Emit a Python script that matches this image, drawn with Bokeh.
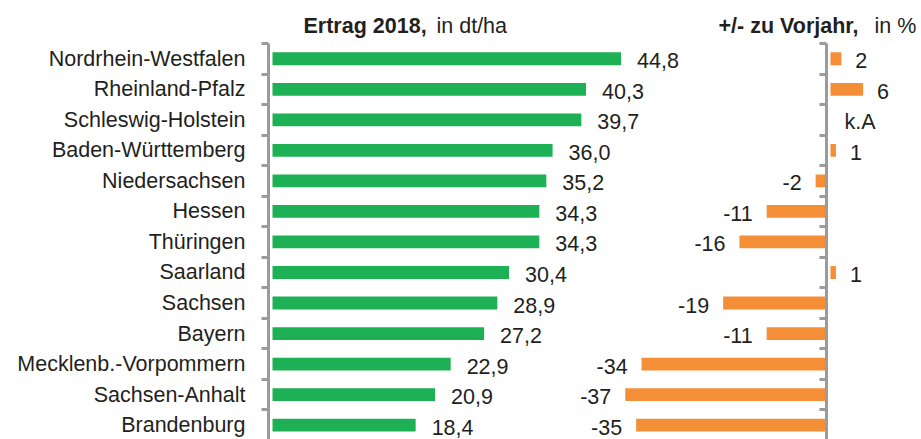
from bokeh.plotting import figure
from bokeh.models import ColumnDataSource, Range1d, LinearAxis, FixedTicker
from bokeh.layouts import column, row
from bokeh.core.properties import value
from bokeh.embed import file_html
from bokeh.resources import INLINE

# ---------------- data ----------------
states = ["Nordrhein-Westfalen", "Rheinland-Pfalz", "Schleswig-Holstein",
          "Baden-Württemberg", "Niedersachsen", "Hessen", "Thüringen",
          "Saarland", "Sachsen", "Bayern", "Mecklenb.-Vorpommern",
          "Sachsen-Anhalt", "Brandenburg"]
ertrag = [44.8, 40.3, 39.7, 36.0, 35.2, 34.3, 34.3, 30.4, 28.9, 27.2, 22.9, 20.9, 18.4]
change = [2, 6, None, 1, -2, -11, -16, 1, -19, -11, -34, -37, -35]
na_text = "k.A"
title_left_bold = "Ertrag 2018,"
title_left_rest = "in dt/ha"
title_right_bold = "+/- zu Vorjahr,"
title_right_rest = "in %"

# ---------------- styles ----------------
FONT = "Liberation Sans"
GREEN = "#1eb054"
ORANGE = "#f48f38"
GRAY = "#9b9b9b"
TXT = "#231f20"
FS = "21.5px"

n = len(states)
idx = list(range(n))
bounds = [i - 0.5 for i in range(n + 1)]

src = ColumnDataSource(dict(
    idx=idx, ertrag=ertrag,
    lab=[f"{v:.1f}".replace(".", ",") for v in ertrag]))

neg_i = [i for i, c in enumerate(change) if c is not None and c < 0]
neg_src = ColumnDataSource(dict(
    idx=neg_i, val=[change[i] for i in neg_i],
    lab=[str(change[i]) for i in neg_i]))
pos_i = [i for i, c in enumerate(change) if c is None or c >= 0]
pos_src = ColumnDataSource(dict(
    idx=pos_i, val=[0 if change[i] is None else change[i] for i in pos_i],
    lab=[na_text if change[i] is None else str(change[i]) for i in pos_i]))

common = dict(output_backend="svg", toolbar_location=None)

# ---------------- title strip ----------------
T = figure(width=921, height=42, x_range=Range1d(0, 921), y_range=Range1d(42, 0),
           x_axis_location=None, y_axis_location=None, min_border=0, **common)
T.outline_line_color = None
T.grid.visible = False
for x, txt, style in [(303, title_left_bold, "bold"), (436, title_left_rest, "normal"),
                      (718, title_right_bold, "bold"), (874, title_right_rest, "normal")]:
    T.text(x=[x], y=[25], text=[txt], text_font=value(FONT),
           text_font_style=style, text_font_size=FS, text_color=TXT,
           text_baseline="middle")

# ---------------- main panel ----------------
yr = Range1d(12.47, -0.5)
L = figure(frame_width=558, frame_height=396, x_range=Range1d(-0.514, 71.21),
           y_range=yr, x_axis_location=None, y_axis_location="left",
           min_border_left=268, min_border_right=3, min_border_top=1,
           min_border_bottom=0, **common)
L.extra_x_ranges = {"chg": Range1d(-102.6, 0)}
L.outline_line_color = None
L.grid.visible = False

L.hbar(y="idx", left=0, right="ertrag", height=0.42, fill_color=GREEN,
       line_color=None, source=src)
L.text(x="ertrag", y="idx", text="lab", x_offset=16, y_offset=2,
       text_align="left", text_baseline="middle", text_font=value(FONT),
       text_font_size=FS, text_color=TXT, source=src)

L.hbar(y="idx", left="val", right=0, height=0.42, fill_color=ORANGE,
       line_color=None, x_range_name="chg", source=neg_src)
L.text(x="val", y="idx", text="lab", x_offset=-14, y_offset=2,
       text_align="right", text_baseline="middle", text_font=value(FONT),
       text_font_size=FS, text_color=TXT, x_range_name="chg", source=neg_src)

ax = L.yaxis[0]
ax.ticker = FixedTicker(ticks=idx, minor_ticks=bounds)
ax.major_label_overrides = {i: s for i, s in zip(idx, states)}
ax.major_tick_line_color = None
ax.major_tick_out = 0
ax.major_tick_in = 0
ax.minor_tick_out = 7
ax.minor_tick_in = 0
ax.minor_tick_line_color = GRAY
ax.minor_tick_line_width = 3
ax.axis_line_color = GRAY
ax.axis_line_width = 3
ax.major_label_standoff = 16
ax.major_label_text_font = FONT
ax.major_label_text_font_size = FS
ax.major_label_text_color = TXT

rax = LinearAxis(ticker=FixedTicker(ticks=[], minor_ticks=bounds))
rax.major_tick_line_color = None
rax.major_tick_out = 0
rax.major_tick_in = 0
rax.minor_tick_out = 0
rax.minor_tick_in = 7
rax.minor_tick_line_color = GRAY
rax.minor_tick_line_width = 3
rax.axis_line_color = GRAY
rax.axis_line_width = 3
rax.major_label_standoff = 0
rax.major_label_text_font_size = "0px"
L.add_layout(rax, "right")

# ---------------- positive change panel ----------------
R = figure(width=92, height=397, x_range=Range1d(-0.18, 16.73), y_range=yr,
           x_axis_location=None, y_axis_location=None, min_border=0,
           min_border_top=1, **common)
R.outline_line_color = None
R.grid.visible = False
R.hbar(y="idx", left=0, right="val", height=0.42, fill_color=ORANGE,
       line_color=None, source=pos_src)
R.text(x="val", y="idx", text="lab", x_offset=14, y_offset=2,
       text_align="left", text_baseline="middle", text_font=value(FONT),
       text_font_size=FS, text_color=TXT, source=pos_src)

layout = column(T, row(L, R))
open("out.html", "w").write(file_html(layout, INLINE))
